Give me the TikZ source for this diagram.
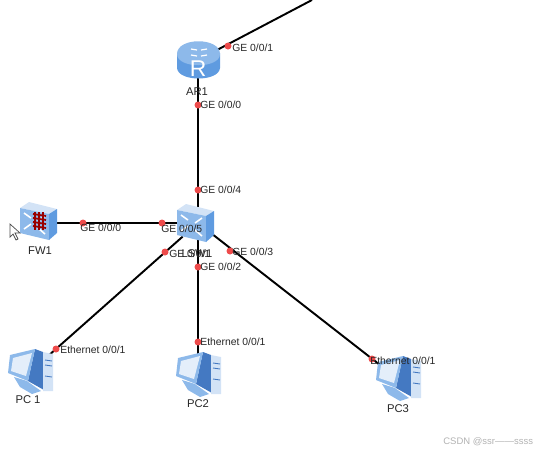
\documentclass[tikz,border=0pt]{standalone}
\usepackage{fontspec}
\setmainfont{Liberation Sans}
\definecolor{topblue}{HTML}{8DB9EA}
\definecolor{midblue}{HTML}{5F9BE0}
\definecolor{darkblue}{HTML}{4479C2}
\definecolor{paleblue}{HTML}{D3E3F6}
\definecolor{portred}{HTML}{EE4B4B}
\tikzset{
  device/.style={inner sep=0pt, minimum width=0.6cm, minimum height=0.6cm},
  link/.style={draw=black, line width=1.1pt},
  port/.style={circle, fill=portred, inner sep=0pt, minimum size=0.14cm},
  portlabel/.style={anchor=west, inner sep=0pt, font=\fontsize{5.9}{7}\selectfont, text=black!85},
  devlabel/.style={inner sep=0pt, font=\fontsize{6.4}{8}\selectfont, text=black!85},
  pics/router/.style={code={
    \fill[midblue] (-21,-7) -- (-21,8) .. controls (-20,22) and (21,22) .. (22,8) -- (22,-7) -- cycle;
    \fill[topblue] (-21,-6) .. controls (-21,-23) and (22,-23) .. (22,-6) .. controls (22,9) and (-21,9) .. (-21,-6) -- cycle;
    \foreach \dy in {-11,-5} {
      \draw[white, line width=0.7pt] (-7,\dy) -- (-1,\dy+1);
      \draw[white, line width=0.7pt] (3,\dy+1) -- (9,\dy);
    }
    \node[text=white, inner sep=0pt, font=\fontsize{13}{13}\selectfont] at (0,9) {R};
  }},
  pics/netbox/.style={code={
    \fill[paleblue] (-20,-13) -- (-11,-19) -- (17,-12) -- (9,-7) -- cycle;
    \fill[topblue] (-20,-13) -- (9,-7) -- (9,19) -- (-20,12) -- cycle;
    \fill[midblue] (9,-7) -- (17,-12) -- (17,12) -- (9,19) -- cycle;
    \foreach \xa/\ya/\xb/\yb in {-16/-8/-9/-3, -16/8/-9/3, 5/-5/-2/0, 5/13/-2/7} {
      \draw[white, line width=0.9pt] (\xa,\ya) -- (\xb,\yb);
    }
  }},
  pics/pc/.style={code={
    \fill[darkblue] (5,-23) -- (13,-20) -- (14,18) -- (-2,9) -- cycle;
    \fill[topblue] (-16,5) -- (-3,9) -- (11,19) -- (2,22) -- (-10,15) -- cycle;
    \fill[paleblue] (13,-20) -- (23,-18) -- (23,19) -- (13,19) -- cycle;
    \fill[topblue] (-20,-17) -- (5,-23) -- (-2,9) -- (-22,1) -- cycle;
    \fill[paleblue!60!white] (-17,-14) -- (2,-19) -- (-4,4) -- (-19,-1) -- cycle;
    \foreach \y in {-12,-7,4} {
      \draw[darkblue, line width=0.5pt] (15,\y) -- (22,\y+1);
    }
  }}
}
\begin{document}
\begin{tikzpicture}[x=0.02cm, y=-0.02cm]
\useasboundingbox (0,0) rectangle (536,454);

% Devices
\node[device] (ar1) at (198,60) {};
\node[device] (lsw1) at (198,223) {};
\node[device] (fw1) at (39,223) {};
\node[device] (pc1) at (30,372) {};
\node[device] (pc2) at (198,375) {};
\node[device] (pc3) at (398,379) {};
\coordinate (uplink) at (312,0);

% Links
\draw[link] (ar1.center) -- (uplink);
\draw[link] (ar1) -- (lsw1);
\draw[link] (fw1) -- (lsw1);
\draw[link] (lsw1) -- (pc1);
\draw[link] (lsw1) -- (pc2);
\draw[link] (lsw1) -- (pc3);

% Icons
\pic at (ar1) {router};
\pic at ([shift={(-1,0)}]lsw1.center) {netbox};
\pic at ([shift={(1,-2)}]fw1.center) {netbox};
\foreach \row in {-6,-2,2,6} {
    \draw[red!60!black, line width=1pt] (33,220+\row) -- (46,222+\row);
}
\foreach \col in {35,39,43} {
    \draw[red!60!black, line width=0.6pt] (\col,212) -- (\col,230);
}
\pic at (pc1) {pc};
\pic at (pc2) {pc};
\pic at (pc3) {pc};

% Device names
\node[devlabel] (ar1name) at (197,92) {AR1};
\node[devlabel] (lsw1name) at (197,254) {LSW1};
\node[devlabel] (fw1name) at (40,251) {FW1};
\node[devlabel] (pc1name) at (28,400) {PC 1};
\node[devlabel] (pc2name) at (198,404) {PC2};
\node[devlabel] (pc3name) at (398,409) {PC3};

% Ports
\foreach \name/\px/\py/\lx/\ly/\txt in {
    ar1a/228/46/232/48/GE 0\slash 0\slash 1,
    ar1b/198/105/200/105/GE 0\slash 0\slash 0,
    swa/198/190/200/190/GE 0\slash 0\slash 4,
    fwa/83/223/80/228/GE 0\slash 0\slash 0,
    swb/162/223/161/229/GE 0\slash 0\slash 5,
    swc/165/252/169/254/GE 0\slash 0\slash 1,
    swd/198/267/200/267/GE 0\slash 0\slash 2,
    swe/230/251/232/252/GE 0\slash 0\slash 3,
    pca/56/349/60/350/Ethernet 0\slash 0\slash 1,
    pcb/198/342/200/342/Ethernet 0\slash 0\slash 1,
    pcc/372/359/370/361/Ethernet 0\slash 0\slash 1} {
    \node[port] (\name) at (\px,\py) {};
    \node[portlabel] (\name text) at (\lx,\ly) {\txt};
}

\node[anchor=west, inner sep=0pt, text=black!30, font=\fontsize{5.4}{7}\selectfont] (mark) at (443,442) {CSDN @ssr——ssss};

% Cursor
\draw[black!70, fill=white, line width=0.4pt] (10,224) -- (10,237) -- (13,234) -- (16,240) -- (18,239) -- (15,233) -- (20,233) -- cycle;
\end{tikzpicture}
\end{document}
